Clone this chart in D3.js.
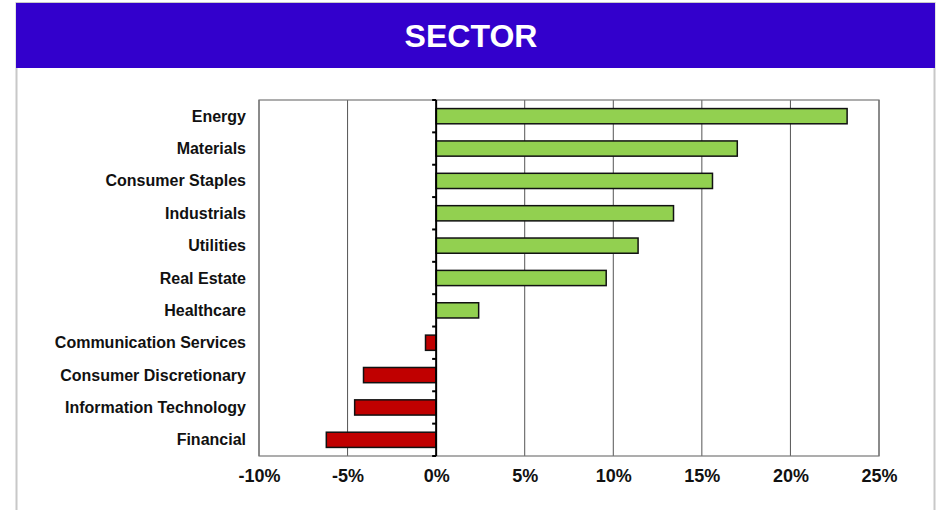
<!DOCTYPE html>
<html><head><meta charset="utf-8">
<script src="https://cdn.jsdelivr.net/npm/d3@7"></script>
<style>body{margin:0;background:#fff}svg{display:block}</style>
</head><body>
<script>
const categories = ["Energy","Materials","Consumer Staples","Industrials","Utilities","Real Estate","Healthcare","Communication Services","Consumer Discretionary","Information Technology","Financial"];
const values = [23.2,17.0,15.6,13.4,11.4,9.6,2.4,-0.6,-4.1,-4.6,-6.2];
const tickValues = [-10,-5,0,5,10,15,20,25];
const title = "SECTOR";

const W=938,H=510;
const svg=d3.select("body").append("svg").attr("width",W).attr("height",H);
const font="Liberation Sans, Arial, Helvetica, sans-serif";

// frame
svg.append("rect").attr("x",16.5).attr("y",3).attr("width",918).attr("height",520).attr("fill","#fff").attr("stroke","#c8c8c8").attr("stroke-width",2);
svg.append("rect").attr("x",16).attr("y",3).attr("width",919).attr("height",65).attr("fill","#3300CC");
svg.append("text").attr("x",471).attr("y",47).attr("text-anchor","middle").attr("fill","#fff")
  .attr("font-family",font).attr("font-weight","bold").attr("font-size",32).text(title);

const L=259,R=879,T=100,B=456;
const x=d3.scaleLinear().domain([-10,25]).range([L,R]);
const y=d3.scaleBand().domain(categories).range([T,B]).paddingInner(0.53).paddingOuter(0.265);
const yb=d3.scaleBand().domain(categories).range([T,B]);

const g=svg.append("g");
// gridlines
g.selectAll("line.grid").data(tickValues.filter(v=>v!==0)).join("line")
  .attr("x1",d=>x(d)).attr("x2",d=>x(d)).attr("y1",T).attr("y2",B)
  .attr("stroke","#555").attr("stroke-width",1);
// plot border
g.append("rect").attr("x",L).attr("y",T).attr("width",R-L).attr("height",B-T)
  .attr("fill","none").attr("stroke","#777").attr("stroke-width",1.2);

// bars
g.selectAll("rect.bar").data(categories).join("rect")
  .attr("x",(d,i)=>x(Math.min(0,values[i])))
  .attr("width",(d,i)=>Math.abs(x(values[i])-x(0)))
  .attr("y",d=>y(d)).attr("height",y.bandwidth())
  .attr("fill",(d,i)=>values[i]>=0?"#92D050":"#C00000")
  .attr("stroke","#111").attr("stroke-width",1.5);

// zero axis with ticks
const zg=g.append("g").attr("transform",`translate(${x(0)},0)`);
const boundaries=d3.range(categories.length+1).map(k=>T+k*yb.step());
zg.selectAll("line.t").data(boundaries).join("line")
  .attr("x1",-4).attr("x2",0).attr("y1",d=>d).attr("y2",d=>d).attr("stroke","#000").attr("stroke-width",2);
zg.append("line").attr("x1",0).attr("x2",0).attr("y1",T).attr("y2",B).attr("stroke","#000").attr("stroke-width",2);

// category labels
g.selectAll("text.cat").data(categories).join("text")
  .attr("x",246).attr("y",d=>yb(d)+yb.bandwidth()/2+5.5)
  .attr("text-anchor","end").attr("font-family",font).attr("font-weight","bold").attr("font-size",16)
  .attr("fill","#111").text(d=>d);

// x axis labels
const xa=d3.axisBottom(x).tickValues(tickValues).tickSize(0).tickFormat(d=>d+"%");
const xg=g.append("g").attr("transform",`translate(0,${B})`).call(xa);
xg.select(".domain").remove();
xg.selectAll("text").attr("dy",0).attr("y",26).attr("font-family",font).attr("font-weight","bold").attr("font-size",18).attr("fill","#111");
</script>
</body></html>
